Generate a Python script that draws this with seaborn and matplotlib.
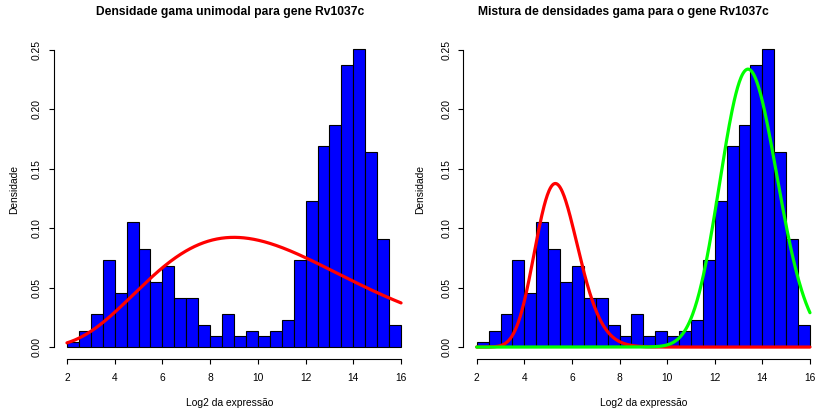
import math
import numpy as np
import pandas as pd
import matplotlib
matplotlib.use("Agg")
import matplotlib.pyplot as plt
import seaborn as sns

# ---- data ----
bin_edges = [2.0 + 0.5 * i for i in range(29)]
densities = [0.0046, 0.0137, 0.0274, 0.0731, 0.0457, 0.1050, 0.0822, 0.0548,
             0.0685, 0.0411, 0.0411, 0.0183, 0.0091, 0.0274, 0.0091, 0.0137,
             0.0091, 0.0137, 0.0228, 0.0731, 0.1233, 0.1689, 0.1872, 0.2374,
             0.2511, 0.1644, 0.0913, 0.0183]

# unimodal gamma fit (shape, rate)
uni_shape, uni_rate = 5.5, 0.5
# mixture components (weight, shape, rate)
comp1_weight, comp1_shape, comp1_rate = 0.31, 36.0, 6.6
comp2_weight, comp2_shape, comp2_rate = 0.703, 126.0, 9.33

xticks = [2, 4, 6, 8, 10, 12, 14, 16]
yticks = [0.00, 0.05, 0.10, 0.15, 0.20, 0.25]
titles = ["Densidade gama unimodal para gene Rv1037c",
          "Mistura de densidades gama para o gene Rv1037c"]
xlabel = "Log2 da expressão"
ylabel = "Densidade"


def dgamma(x, shape, rate):
    x = np.asarray(x, dtype=float)
    return np.exp((shape - 1) * np.log(x) + shape * math.log(rate) - rate * x - math.lgamma(shape))


sns.set_theme(style="ticks")
plt.rcParams["font.family"] = ["Liberation Sans", "DejaVu Sans"]

W, H = 817, 413
fig = plt.figure(figsize=(W / 100, H / 100), dpi=100)


def add_ax(left_px, right_px, top_px, bottom_px):
    return fig.add_axes([left_px / W, (H - bottom_px) / H, (right_px - left_px) / W, (bottom_px - top_px) / H])


axL = add_ax(53.6, 414.4, 36.3, 359.0)
axR = add_ax(463.4, 823.3, 36.3, 359.0)

mids = [e + 0.25 for e in bin_edges[:-1]]
hist_df = pd.DataFrame({"x": mids, "d": densities})
xs = np.linspace(2, 16, 600)

for ax in (axL, axR):
    sns.histplot(data=hist_df, x="x", weights="d", bins=bin_edges, stat="count",
                 color="#0000FF", edgecolor="black", linewidth=0.8, alpha=1.0, ax=ax)

curve_uni = pd.DataFrame({"x": xs, "y": dgamma(xs, uni_shape, uni_rate)})
sns.lineplot(data=curve_uni, x="x", y="y", color="#FF0000", linewidth=2.3, ax=axL)

curve_c1 = pd.DataFrame({"x": xs, "y": comp1_weight * dgamma(xs, comp1_shape, comp1_rate)})
curve_c2 = pd.DataFrame({"x": xs, "y": comp2_weight * dgamma(xs, comp2_shape, comp2_rate)})
sns.lineplot(data=curve_c1, x="x", y="y", color="#FF0000", linewidth=2.3, ax=axR)
sns.lineplot(data=curve_c2, x="x", y="y", color="#00FF00", linewidth=2.3, ax=axR)

for ax, title_cx, title in ((axL, 230.6, titles[0]), (axR, 623.0, titles[1])):
    ax.set_xlim(1.44, 16.56)
    ax.set_ylim(-0.01006, 0.2615)
    ax.set_xticks(xticks)
    ax.set_xticklabels([str(t) for t in xticks])
    ax.set_yticks(yticks)
    ax.set_yticklabels([f"{t:.2f}" for t in yticks], rotation=90, va="center")
    for s in ("top", "right"):
        ax.spines[s].set_visible(False)
    ax.spines["left"].set_bounds(0, 0.25)
    ax.spines["bottom"].set_bounds(2, 16)
    for s in ("left", "bottom"):
        ax.spines[s].set_linewidth(0.8)
        ax.spines[s].set_color("black")
    ax.tick_params(axis="both", length=3.8, width=0.8, color="black", labelsize=7.4, labelcolor="black")
    ax.tick_params(axis="x", pad=6.0)
    ax.tick_params(axis="y", pad=4.5)
    ax.set_xlabel("")
    ax.set_ylabel("")
    ax.grid(False)
    ax.set_facecolor("white")
    fig.text(title_cx / W, 1 - 11.5 / H, title,
             ha="center", va="center", fontsize=8.7, fontweight="bold", color="black")

fig.text(230.0 / W, 1 - 403 / H, xlabel, ha="center", va="center", fontsize=7.4, color="black")
fig.text(643.5 / W, 1 - 403 / H, xlabel, ha="center", va="center", fontsize=7.4, color="black")
fig.text(14.5 / W, 1 - 190 / H, ylabel, ha="center", va="center", rotation=90, fontsize=7.4, color="black")
fig.text(420.5 / W, 1 - 190 / H, ylabel, ha="center", va="center", rotation=90, fontsize=7.4, color="black")

fig.savefig("out.png", dpi=100, facecolor="white")
